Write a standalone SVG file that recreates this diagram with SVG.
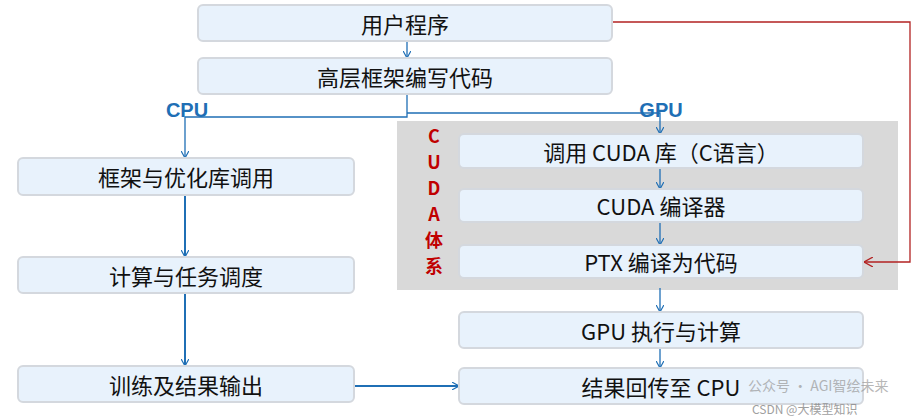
<svg xmlns="http://www.w3.org/2000/svg" width="912" height="418" viewBox="0 0 912 418">
<defs>
<style>
.b{fill:#e8f2fc;stroke:#d4d8de;stroke-width:2}
.t{font-family:"Noto Sans CJK SC","Liberation Sans",sans-serif;font-size:22px;fill:#111;text-anchor:middle;dominant-baseline:central}
.l{stroke:#1f6fb5;fill:none;stroke-width:1.3}
.lt{stroke:#1f6fb5;fill:none;stroke-width:2}
.lab{font-family:"Liberation Sans",sans-serif;font-weight:bold;font-size:20px;fill:#1f6fb5;text-anchor:middle}
.r{font-family:"Noto Sans CJK SC",sans-serif;font-weight:bold;font-size:18px;fill:#c00000;text-anchor:middle}
</style>
<marker id="a" viewBox="0 0 10 10" refX="9" refY="5" markerWidth="8" markerHeight="8" orient="auto-start-reverse" markerUnits="userSpaceOnUse"><path d="M0,0L9,5L0,10" fill="none" stroke="#1f6fb5" stroke-width="1.5"/></marker>
<marker id="ar" viewBox="0 0 10 10" refX="9" refY="5" markerWidth="10" markerHeight="10" orient="auto" markerUnits="userSpaceOnUse"><path d="M0,0L9,5L0,10" fill="none" stroke="#b22222" stroke-width="1.3"/></marker>
</defs>
<rect x="397" y="121" width="501" height="169" fill="#d9d9d9"/>
<g class="r"><text x="434" y="143">C</text><text x="434" y="169">U</text><text x="434" y="195">D</text><text x="434" y="221">A</text><text x="434" y="247">体</text><text x="434" y="273">系</text></g>
<text class="lab" x="187" y="117">CPU</text>
<text class="lab" x="661" y="117">GPU</text>
<g id="connectors">
<path class="l" d="M407,41V58" marker-end="url(#a)"/>
<path class="l" d="M407,94V117H185V158" marker-end="url(#a)"/>
<path class="l" d="M407,113H660V134" marker-end="url(#a)"/>
<path class="l" d="M660,168V189" marker-end="url(#a)"/>
<path class="l" d="M660,222V245" marker-end="url(#a)"/>
<path class="l" d="M660,288V312" marker-end="url(#a)"/>
<path class="l" d="M660,348V368" marker-end="url(#a)"/>
<path class="lt" d="M185,195V257" marker-end="url(#a)"/>
<path class="lt" d="M185,293V366" marker-end="url(#a)"/>
<path class="lt" d="M354,386H459" marker-end="url(#a)"/>
<path d="M612,22H910V262H864" fill="none" stroke="#b22222" stroke-width="1.3" marker-end="url(#ar)"/>
</g>
<g id="n1"><rect class="b" x="198" y="5" width="414" height="36" rx="5"/><text class="t" x="405" y="23">用户程序</text></g>
<g id="n2"><rect class="b" x="198" y="58" width="414" height="36" rx="5"/><text class="t" x="405" y="76">高层框架编写代码</text></g>
<g id="n3"><rect class="b" x="18" y="158" width="336" height="37" rx="5"/><text class="t" x="186" y="176">框架与优化库调用</text></g>
<g id="n4"><rect class="b" x="18" y="257" width="336" height="36" rx="5"/><text class="t" x="186" y="275">计算与任务调度</text></g>
<g id="n5"><rect class="b" x="18" y="366" width="336" height="36" rx="5"/><text class="t" x="186" y="384">训练及结果输出</text></g>
<g id="n6"><rect class="b" x="459" y="134" width="404" height="34" rx="5"/><text class="t" x="661" y="151">调用 CUDA 库（C语言）</text></g>
<g id="n7"><rect class="b" x="459" y="189" width="404" height="33" rx="5"/><text class="t" x="661" y="205">CUDA 编译器</text></g>
<g id="n8"><rect class="b" x="459" y="245" width="404" height="33" rx="5"/><text class="t" x="661" y="261">PTX 编译为代码</text></g>
<g id="n9"><rect class="b" x="459" y="312" width="404" height="36" rx="5"/><text class="t" x="661" y="330">GPU 执行与计算</text></g>
<g id="n10"><rect class="b" x="459" y="368" width="404" height="36" rx="5"/><text class="t" x="661" y="386">结果回传至 CPU</text></g>
<text x="748" y="391" font-family="Noto Sans CJK SC,sans-serif" font-size="14" fill="#999" opacity="0.7">公众号 · AGI智绘未来</text>
<text x="752" y="414" font-family="Noto Sans CJK SC,sans-serif" font-size="12" fill="#888" opacity="0.8">CSDN @大模型知识</text>
</svg>
